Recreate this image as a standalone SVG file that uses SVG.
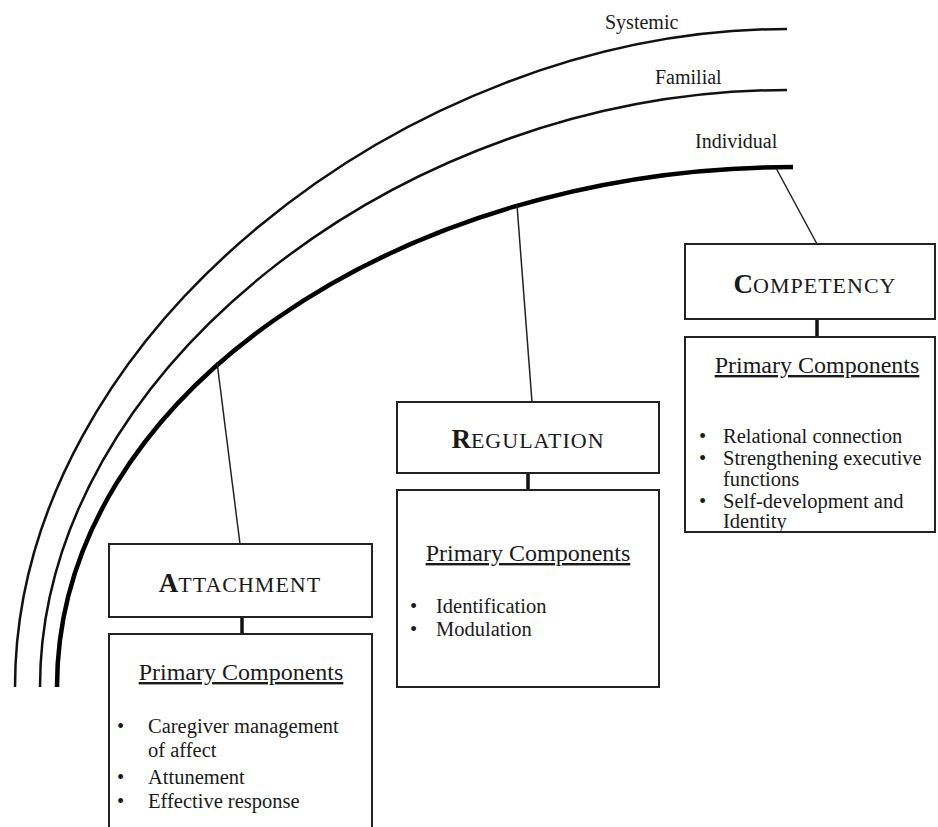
<svg xmlns="http://www.w3.org/2000/svg" width="938" height="827" viewBox="0 0 938 827">
<style>
  text { font-family: "Liberation Serif", "Times New Roman", serif; fill: #1a1a1a; }
  .lvl { font-size: 20px; }
  .title { font-size: 22px; letter-spacing: 1px; }
  .cap { font-size: 27px; font-weight: bold; letter-spacing: 0; }
  .hdr { font-size: 24px; text-decoration: underline; }
  .item { font-size: 20.5px; }
  .box { fill: #fff; stroke: #222; stroke-width: 2; }
  .arc { fill: none; stroke: #111; stroke-width: 2.5; }
  .arcI { fill: none; stroke: #000; stroke-width: 4.5; }
  .thin { stroke: #222; stroke-width: 1.5; fill: none; }
  .stem { stroke: #111; stroke-width: 3.5; }
</style>
<rect width="938" height="827" fill="#fff"/>

<g id="levels">
  <path class="arc" d="M15,687 C15,337 407,29 787,29"/>
  <path class="arc" d="M40,687 C40,372 402,90 787,90"/>
  <path class="arcI" d="M57,687 C57,397 398,167 793,167"/>
  <text class="lvl" x="605" y="29">Systemic</text>
  <text class="lvl" x="655" y="84">Familial</text>
  <text class="lvl" x="695" y="148">Individual</text>
</g>

<g id="connectors">
  <line class="thin" x1="217" y1="362" x2="240" y2="544"/>
  <line class="thin" x1="517" y1="205" x2="532" y2="402"/>
  <line class="thin" x1="776" y1="168" x2="817" y2="244"/>
  <line class="stem" x1="242" y1="617" x2="242" y2="634"/>
  <line class="stem" x1="528" y1="473" x2="528" y2="490"/>
  <line class="stem" x1="817" y1="319" x2="817" y2="337"/>
</g>

<g id="attachment">
  <rect class="box" x="109" y="544" width="263" height="73"/>
  <text class="title" x="240" y="592" text-anchor="middle"><tspan class="cap">A</tspan>TTACHMENT</text>
</g>
<g id="attachment-components">
  <rect class="box" x="109" y="634" width="263" height="210"/>
  <text class="hdr" x="241" y="680" text-anchor="middle">Primary Components</text>
  <text class="item" x="117" y="733">•</text>
  <text class="item" x="148" y="733">Caregiver management</text>
  <text class="item" x="148" y="757">of affect</text>
  <text class="item" x="117" y="784">•</text>
  <text class="item" x="148" y="784">Attunement</text>
  <text class="item" x="117" y="808">•</text>
  <text class="item" x="148" y="808">Effective response</text>
</g>

<g id="regulation">
  <rect class="box" x="397" y="402" width="262" height="71"/>
  <text class="title" x="528" y="448" text-anchor="middle"><tspan class="cap">R</tspan>EGULATION</text>
</g>
<g id="regulation-components">
  <rect class="box" x="397" y="490" width="262" height="197"/>
  <text class="hdr" x="528" y="561" text-anchor="middle">Primary Components</text>
  <text class="item" x="410" y="613">•</text>
  <text class="item" x="436" y="613">Identification</text>
  <text class="item" x="410" y="636">•</text>
  <text class="item" x="436" y="636">Modulation</text>
</g>

<g id="competency">
  <rect class="box" x="685" y="244" width="250" height="75"/>
  <text class="title" x="815" y="293" text-anchor="middle"><tspan class="cap">C</tspan>OMPETENCY</text>
</g>
<g id="competency-components">
  <rect class="box" x="685" y="337" width="250" height="195"/>
  <text class="hdr" x="817" y="373" text-anchor="middle">Primary Components</text>
  <text class="item" x="699" y="443">•</text>
  <text class="item" x="723" y="443">Relational connection</text>
  <text class="item" x="699" y="465">•</text>
  <text class="item" x="723" y="465">Strengthening executive</text>
  <text class="item" x="723" y="486">functions</text>
  <text class="item" x="699" y="508">•</text>
  <text class="item" x="723" y="508">Self-development and</text>
  <text class="item" x="723" y="528">Identity</text>
</g>
</svg>
